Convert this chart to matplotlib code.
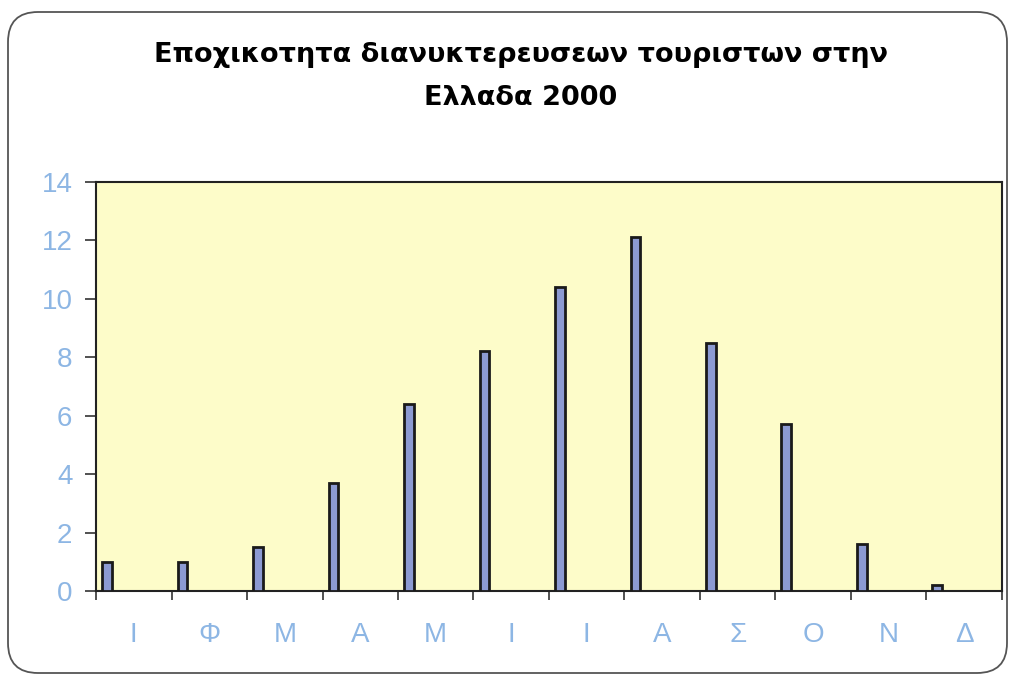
"""
Εποχικότητα διανυκτερεύσεων τουριστών, 2000
"""

import numpy as np
import matplotlib.pyplot as plt
from matplotlib.patches import FancyBboxPatch

# Δεδομένα
months = ['Ι', 'Φ', 'Μ', 'Α', 'Μ', 'Ι', 'Ι', 'Α', 'Σ', 'Ο', 'Ν', 'Δ']
values = [1.0, 1.0, 1.5, 3.7, 6.4, 8.2, 10.4, 12.1, 8.5, 5.7, 1.6, 0.2]
title_lines = ['Εποχικοτητα διανυκτερευσεων τουριστων στην', 'Ελλαδα 2000']

plt.rcParams['font.family'] = ['Liberation Sans', 'DejaVu Sans']
label_color = '#8db6e4'

fig = plt.figure(figsize=(10.11, 6.75), dpi=100)
fig.patch.set_facecolor('white')

# Στρογγυλεμένο πλαίσιο γύρω από το γράφημα (σε ίντσες)
frame = FancyBboxPatch((0.08, 0.02), 9.99, 6.61, boxstyle='round,pad=0,rounding_size=0.3',
                       transform=fig.dpi_scale_trans, facecolor='none', edgecolor='#555555',
                       linewidth=1.3)
fig.patches.append(frame)

ax = fig.add_axes([0.095, 0.1244, 0.896, 0.606])
ax.set_facecolor('#fdfcc9')

x = np.arange(len(months))
ax.bar(x + 0.08, values, width=0.13, align='edge', color='#8c9ad2',
       edgecolor='#1a1a1a', linewidth=2, zorder=3)

ax.set_xlim(0, len(months))
ax.set_ylim(0, 14)
ax.set_yticks(range(0, 15, 2))
ax.set_xticks(np.arange(len(months) + 1))
ax.set_xticklabels([])
ax.set_xticks(x + 0.5, minor=True)
ax.set_xticklabels(months, minor=True)

ax.tick_params(axis='y', direction='out', length=8, width=1.2, colors='#333333',
               labelcolor=label_color, labelsize=20, pad=9)
ax.tick_params(axis='x', which='major', direction='out', length=6.5, width=1.2, colors='#333333')
ax.tick_params(axis='x', which='minor', length=0, labelcolor=label_color, labelsize=20, pad=22)

for side in ax.spines.values():
    side.set_linewidth(1.5)
    side.set_color('#222222')

fig.text(0.515, 0.908, title_lines[0], ha='center', va='baseline', fontsize=19.5,
         fontweight='bold', family='DejaVu Sans')
fig.text(0.515, 0.844, title_lines[1], ha='center', va='baseline', fontsize=19.5,
         fontweight='bold', family='DejaVu Sans')

plt.savefig('out.png', dpi=100)
